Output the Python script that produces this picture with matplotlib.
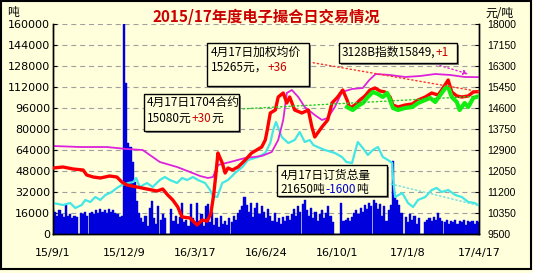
import numpy as np
import pandas as pd
import matplotlib
matplotlib.use('Agg')
import matplotlib.pyplot as plt
import matplotlib.dates as mdates
from matplotlib.patches import Rectangle

plt.rcParams['font.family'] = ['Noto Sans CJK SC', 'DejaVu Sans']

start = pd.Timestamp('2015-09-01')
end_day = 594

# day offsets from 2015-09-01
tick_days = [0, 99, 198, 297, 396, 495, 594]
tick_labels = ['15/9/1', '15/12/9', '16/3/17', '16/6/24', '16/10/1', '17/1/8', '17/4/17']

# 3128B index (yuan/t)
mag_days = [0, 38, 75, 103, 125, 135, 149, 173, 191, 205, 216, 223, 230, 247, 268, 291, 305, 314, 321, 326,
            333, 342, 351, 365, 375, 383, 393, 403, 417, 432, 441, 450, 470, 491, 512, 533, 554, 574, 594]
mag_vals = [13062, 13021, 13021, 12940, 12900, 12698, 12414, 12212, 12010, 11848, 11767, 11807, 12293, 12414,
            12576, 12657, 12819, 13305, 14114, 15207, 15329, 15045, 14640, 14317, 14114, 14195, 14640, 15248,
            15369, 15410, 15733, 15976, 15936, 15855, 15895, 15976, 15936, 15855, 15849]

# weighted average price (yuan/t)
red_days = [0, 14, 28, 42, 47, 56, 66, 79, 89, 96, 103, 117, 131, 145, 153, 160, 167, 174, 180, 191,
            201, 208, 215, 220, 224, 227, 230, 233, 236, 240, 244, 250, 258, 268, 277, 291, 296, 298, 303, 310,
            314, 321, 326, 330, 337, 347, 356, 361, 365, 369, 375, 383, 389, 397, 404, 410, 414, 421, 428, 435,
            442, 449, 456, 463, 470, 474, 481, 491, 501, 509, 519, 528, 537, 542, 551, 556, 563, 570, 579, 586,
            594]
red_vals = [12171, 12212, 12131, 12090, 11888, 11807, 11767, 11848, 11807, 11605, 11483, 11402, 11321, 11240,
            11321, 11079, 10876, 10593, 10188, 10148, 9864, 10067, 10026, 10310, 11079, 11888, 12779, 12576,
            12374, 11969, 12171, 12090, 12212, 12495, 12779, 13021, 13305, 13588, 14398, 14519, 15045, 15207,
            14802, 15045, 14519, 14398, 14519, 13831, 13426, 13588, 13831, 14114, 14802, 15045, 15329, 14924,
            14600, 14721, 14924, 15086, 15329, 15410, 15288, 15248, 15045, 14721, 14640, 14721, 14762, 14924,
            15045, 15207, 15126, 15329, 15733, 15248, 15086, 15045, 15086, 15248, 15265]

# 1704 contract (yuan/t)
green_days = [410, 418, 425, 432, 439, 446, 453, 460, 466, 470, 474, 481, 491, 501, 509, 519, 526, 533, 540, 547,
              551, 556, 563, 567, 574, 579, 586, 594]
green_vals = [14640, 14519, 14681, 14802, 15045, 15248, 15167, 15045, 15207, 14924, 14600, 14519, 14600, 14640,
              14802, 14924, 15005, 14843, 15126, 15410, 15450, 15045, 14843, 14519, 14802, 14640, 15005, 15080]

# total orders (t)
cyan_days = [0, 14, 24, 31, 40, 45, 52, 59, 66, 73, 82, 89, 96, 105, 112, 116, 121, 131, 139, 149,
             156, 163, 173, 180, 187, 195, 202, 212, 219, 223, 229, 236, 244, 254, 264, 272, 286, 296, 303, 307,
             311, 319, 328, 337, 344, 351, 358, 363, 369, 379, 393, 403, 409, 417, 421, 425, 432, 439, 446, 453,
             460, 467, 473, 474, 477, 487, 495, 502, 509, 519, 528, 535, 542, 551, 561, 570, 579, 588, 594]
cyan_vals = [23619, 22095, 23619, 19809, 22095, 25905, 24381, 28190, 25905, 29714, 32000, 35047, 37333, 38857,
             39619, 42667, 35809, 38857, 35809, 41143, 43428, 41143, 38857, 42667, 41143, 43428, 41143, 38857,
             33524, 28952, 28190, 38857, 41143, 46476, 51047, 56381, 58667, 61714, 69333, 79238, 85333, 73905,
             69333, 71619, 77714, 70095, 71619, 67809, 66286, 64000, 61714, 58667, 54857, 54095, 62476, 70095,
             65524, 60190, 64000, 66286, 58667, 56381, 54095, 43428, 28190, 31238, 23619, 20571, 25905, 28190,
             33524, 35047, 32000, 33524, 29714, 28190, 24381, 23619, 21650]

# daily volume (t), one value every 3 days
vol = [19000, 17000, 14000, 18000, 15000, 13000, 22000, 14000, 15000, 12000, 14000, 13000,
       0,
       16000, 15000, 17000, 14000, 16000, 17000, 15000, 18000, 16000, 19000, 17000, 18000, 16000, 19000,
       17000, 18000, 16000, 15000, 13000,
       14000, 160000, 115000, 69000, 66000, 55000, 40000, 25000, 16000,
       12000, 9000, 14000, 6000, 20000, 25000, 12000, 8000, 21000, 11000, 15000, 12000, 0, 0, 19000, 10000,
       14000, 8000, 13000, 24000, 9000, 11000, 6000, 23000, 12000, 8000, 24000, 10000,
       15000, 6000, 21000, 23000, 9000, 17000, 7000, 12000, 5000, 14000, 8000, 10000, 7000, 12000, 9000,
       14000, 11000, 16000, 18000, 21000, 28000, 22000, 17000, 24000, 13000, 20000, 24000, 15000, 21000,
       17000, 12000, 19000, 14000, 10000, 16000, 9000, 12000, 8000, 13000, 10000, 14000, 11000, 15000,
       19000, 14000, 21000, 17000, 23000, 26000, 18000, 14000, 20000, 12000, 17000, 10000, 15000, 18000,
       12000, 16000, 21000, 14000, 9000,
       0, 0, 0,
       24000, 10000, 11000, 12000, 10000, 13000, 16000, 18000, 15000, 20000, 17000, 22000, 19000, 24000,
       21000, 26000, 24000, 19000, 23000, 14000, 21000, 10000, 18000, 22000, 56000, 30000, 26000, 22000, 16000,
       0,
       13000, 9000, 15000, 11000, 14000, 8000, 12000,
       0, 0,
       9000, 11000, 12000, 10000, 13000, 11000, 16000, 12000, 10000, 9000, 11000, 8000, 10000, 9000, 11000,
       8000, 10000, 9000, 11000, 7000, 10000, 9000, 10000, 8000, 10000, 9000]


def to_dates(days):
    return start + pd.to_timedelta(np.asarray(days), unit='D')


bg = '#FFFFDC'
bar_blue = '#0000DD'
fig = plt.figure(figsize=(5.33, 2.73), dpi=100, facecolor=bg)
ax = fig.add_axes([53 / 533, 1 - 234 / 273, 426 / 533, 210 / 273])
ax.set_facecolor(bg)
ax2 = ax.twinx()
ax2.patch.set_visible(False)

ax.bar(to_dates(np.arange(len(vol)) * 3), vol, width=3, color=bar_blue, edgecolor=bar_blue, linewidth=0.3,
       zorder=1)
ax.plot(to_dates(cyan_days), cyan_vals, color='#44E6E6', lw=1.6, zorder=3)
ax2.plot(to_dates(mag_days), mag_vals, color='#DD22DD', lw=1.3, zorder=2)
ax2.plot(to_dates(red_days), red_vals, color='#FF0000', lw=2.4, zorder=3)
ax2.plot(to_dates(green_days), green_vals, color='#11EE11', lw=3.0, zorder=4)

ax.set_xlim(start, start + pd.Timedelta(days=end_day))
ax.set_ylim(0, 160000)
ax2.set_ylim(9500, 18000)
ax.set_yticks(np.arange(0, 160001, 16000))
ax2.set_yticks(np.arange(9500, 18001, 850))
ax.set_xticks(to_dates(tick_days))
ax.set_xticklabels(tick_labels)

ax.set_axisbelow(True)
ax.yaxis.grid(True, color='#A0A0A0', ls=(0, (4.5, 3.5)), lw=0.8)

for a in (ax, ax2):
    a.spines['top'].set_visible(False)
    for s in ('left', 'right', 'bottom'):
        a.spines[s].set_linewidth(1.0)
        a.spines[s].set_color('black')

ax.tick_params(axis='y', direction='in', length=3, pad=2, labelsize=8)
ax.tick_params(axis='x', length=0, pad=10, labelsize=8)
ax2.tick_params(axis='y', direction='in', length=3, pad=6, labelsize=7.5)
for lbl in ax.get_yticklabels() + ax.get_xticklabels():
    lbl.set_fontfamily('DejaVu Sans')
for lbl in ax2.get_yticklabels():
    lbl.set_fontfamily('Liberation Sans')


# leader lines from the boxes to the last points
def last(days, vals):
    return (mdates.date2num(to_dates(days)[-1]), vals[-1])


ax2.annotate('', xy=last(red_days, red_vals), xytext=(0.601, 0.819), textcoords='axes fraction',
             arrowprops=dict(arrowstyle='-', ls=(0, (1, 2)), color='#FF3030', lw=1, shrinkA=0, shrinkB=0), zorder=6)
ax2.annotate('', xy=last(mag_days, mag_vals), xytext=(0.880, 0.819), textcoords='axes fraction',
             arrowprops=dict(arrowstyle='-|>', mutation_scale=7, ls=(0, (1, 2)), color='#DD22DD', lw=1,
                             shrinkA=0, shrinkB=8), zorder=6)
ax2.annotate('', xy=last(green_days, green_vals), xytext=(0.4366, 0.595), textcoords='axes fraction',
             arrowprops=dict(arrowstyle='-', ls=(0, (1, 2)), color='#22CC22', lw=1, shrinkA=0, shrinkB=0), zorder=6)
ax2.annotate('', xy=last(cyan_days, cyan_vals), xycoords=ax.transData, xytext=(0.784, 0.243),
             textcoords='axes fraction',
             arrowprops=dict(arrowstyle='-', ls=(0, (1, 2)), color='#66E0E0', lw=1, shrinkA=0, shrinkB=0), zorder=6)


def box(x0, y0, x1, y1):
    sx, sy = 2 / 426, 2 / 210
    ax2.add_patch(Rectangle((x0 + sx, y0 - sy), x1 - x0, y1 - y0, transform=ax2.transAxes,
                            facecolor='#808080', edgecolor='none', zorder=9, clip_on=False))
    ax2.add_patch(Rectangle((x0, y0), x1 - x0, y1 - y0, transform=ax2.transAxes,
                            facecolor=bg, edgecolor='black', lw=1, zorder=10, clip_on=False))


def line(x, y, parts):
    t = None
    for s, c in parts:
        if t is None:
            t = ax2.text(x, y, s, transform=ax2.transAxes, color=c, fontsize=8.5, va='center', ha='left', zorder=11)
        else:
            t = ax2.annotate(s, xy=(1, 0), xycoords=t, color=c, fontsize=8.5, va='bottom', ha='left', zorder=11)


box(0.3615, 0.705, 0.601, 0.9095)
line(0.371, 0.866, [('4月17日加权均价', 'black')])
line(0.371, 0.795, [('15265元，', 'black'), ('+36', '#CC0000')])

box(0.671, 0.814, 0.948, 0.9095)
line(0.678, 0.864, [('3128B指数15849,', 'black'), ('+1', '#CC0000')])

box(0.2136, 0.4905, 0.4366, 0.6667)
line(0.2207, 0.628, [('4月17日1704合约', 'black')])
line(0.2207, 0.552, [('15080元', 'black'), ('+30', '#CC0000'), ('元', 'black')])

box(0.5258, 0.181, 0.784, 0.3286)
line(0.535, 0.281, [('4月17日订货总量', 'black')])
line(0.535, 0.214, [('21650吨', 'black'), ('-1600', '#0000CC'), ('吨', 'black')])

fig.text(0.499, 0.941, '2015/17年度电子撮合日交易情况', color='#CC0000', fontsize=11, fontweight='bold',
         ha='center', va='center')
fig.text(0.025, 0.955, '吨', fontsize=8.5, ha='center', va='center')
fig.text(0.937, 0.952, '元/吨', fontsize=8.5, ha='center', va='center')

fig.patches.append(Rectangle((0.5 / 533, 4 / 273), 530.5 / 533, 268.5 / 273, transform=fig.transFigure,
                             fill=False, edgecolor='black', lw=1.5))

fig.savefig('out.png', dpi=100, facecolor=bg)
